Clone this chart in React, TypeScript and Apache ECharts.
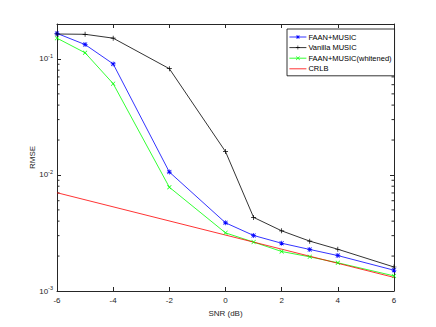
import React, { useEffect, useRef } from "react";
import * as echarts from "echarts";

const snrValues = [-6, -5, -4, -2, 0, 1, 2, 3, 4, 6];
const faanMusic = [0.166, 0.133, 0.0906, 0.0106, 0.00387, 0.00301, 0.00258, 0.00228, 0.00202, 0.00151];
const vanillaMusic = [0.164, 0.163, 0.151, 0.0824, 0.0159, 0.00431, 0.0033, 0.00269, 0.00229, 0.00161];
const faanWhitened = [0.151, 0.113, 0.0612, 0.00784, 0.00317, 0.00264, 0.00219, 0.00197, 0.00175, 0.00135];
const crlbSnr = [-6, 6];
const crlbValues = [0.00703, 0.00131];
const seriesNames = ["FAAN+MUSIC", "Vanilla MUSIC", "FAAN+MUSIC(whitened)", "CRLB"];
const xMin = -6;
const xMax = 6;
const yMin = 0.001;
const yMax = 0.2;

const FONT = "Liberation Sans, Arial, Helvetica, sans-serif";
const AX = "#262626";

const PLUS = "path://M4.3,0H5.7V4.3H10V5.7H5.7V10H4.3V5.7H0V4.3H4.3Z";
const XMARK = "path://M0,1L1,0L5,4L9,0L10,1L6,5L10,9L9,10L5,6L1,10L0,9L4,5Z";
const STAR =
  "path://M4.3,0H5.7V4.3H10V5.7H5.7V10H4.3V5.7H0V4.3H4.3Z M0.5,1.5L1.5,0.5L5,4L8.5,0.5L9.5,1.5L6,5L9.5,8.5L8.5,9.5L5,6L1.5,9.5L0.5,8.5L4,5Z";

function pairs(xs: number[], ys: number[]) {
  return xs.map((x, i) => [x, ys[i]]);
}

// minor tick positions on the log axis (k * 10^n)
const minorTickValues: number[] = [];
for (let e = -3; e <= -1; e++) {
  for (let k = 2; k <= 9; k++) {
    const v = k * Math.pow(10, e);
    if (v < yMax) minorTickValues.push(v);
  }
}

export default function App() {
  const ref = useRef<HTMLDivElement>(null);
  useEffect(() => {
    if (!ref.current) return;
    const chart = echarts.init(ref.current, undefined, { renderer: "svg" });
    const yLabel = (v: number) => {
      const l = Math.log10(v);
      const e = Math.round(l);
      if (Math.abs(l - e) > 1e-6) return "";
      return `{b|10}{s|${e}}`;
    };
    const lineCommon = {
      type: "line" as const,
      xAxisIndex: 0,
      yAxisIndex: 0,
      showAllSymbol: true,
      symbolSize: 5,
      lineStyle: { width: 0.8 },
      z: 3,
    };
    chart.setOption({
      animation: false,
      backgroundColor: "#fff",
      textStyle: { fontFamily: FONT },
      grid: { left: 57, top: 24, right: 42, bottom: 36, containLabel: false },
      legend: {
        orient: "vertical",
        left: 287,
        top: 29,
        itemWidth: 17,
        itemHeight: 5,
        itemGap: 2.6,
        padding: [4, 3, 3, 2],
        borderColor: "#000",
        borderWidth: 0.8,
        borderRadius: 0,
        backgroundColor: "#fff",
        data: [
          seriesNames[0],
          seriesNames[1],
          seriesNames[2],
          { name: seriesNames[3], itemStyle: { opacity: 0 } },
        ],
        lineStyle: { width: 0.8 },
        textStyle: { fontSize: 7.5, color: "#000", fontFamily: FONT, padding: [0, 0, 0, -3] },
      },
      xAxis: [
        {
          type: "value",
          min: xMin,
          max: xMax,
          interval: 2,
          name: "SNR (dB)",
          nameLocation: "middle",
          nameGap: 18,
          nameMoveOverlap: false,
          nameTextStyle: { fontSize: 8, color: AX, fontFamily: FONT },
          axisLine: { show: true, onZero: false, lineStyle: { color: AX, width: 1 } },
          axisTick: { show: true, inside: true, length: 4, lineStyle: { color: AX } },
          axisLabel: { fontSize: 8, color: AX, margin: 5, fontFamily: FONT },
          splitLine: { show: false },
        },
        {
          type: "value",
          position: "top",
          min: xMin,
          max: xMax,
          interval: 2,
          axisLine: { show: true, onZero: false, lineStyle: { color: AX, width: 1 } },
          axisTick: { show: true, inside: true, length: 4, lineStyle: { color: AX } },
          axisLabel: { show: false },
          splitLine: { show: false },
        },
      ],
      yAxis: [
        {
          type: "log",
          logBase: 10,
          min: yMin,
          max: yMax,
          name: "RMSE",
          nameLocation: "middle",
          nameGap: 21,
          nameMoveOverlap: false,
          nameRotate: 90,
          nameTextStyle: { fontSize: 8, color: AX, fontFamily: FONT },
          axisLine: { show: true, onZero: false, lineStyle: { color: AX, width: 1 } },
          axisTick: { show: true, inside: true, length: 4, lineStyle: { color: AX } },
          axisLabel: {
            formatter: yLabel,
            margin: 4,
            showMaxLabel: false,
            rich: {
              b: { fontSize: 8, color: AX, fontFamily: FONT },
              s: { fontSize: 5.5, color: AX, fontFamily: FONT, padding: [0, 0, 6, 0] },
            },
          },
          splitLine: { show: false },
        },
        {
          type: "log",
          logBase: 10,
          position: "right",
          min: yMin,
          max: yMax,
          axisLine: { show: true, onZero: false, lineStyle: { color: AX, width: 1 } },
          axisTick: { show: true, inside: true, length: 4, lineStyle: { color: AX } },
          axisLabel: { show: false },
          splitLine: { show: false },
        },
      ],
      series: [
        {
          ...lineCommon,
          name: seriesNames[0],
          data: pairs(snrValues, faanMusic),
          symbol: STAR,
          color: "#0000ff",
          itemStyle: { color: "#0000ff" },
        },
        {
          ...lineCommon,
          name: seriesNames[1],
          data: pairs(snrValues, vanillaMusic),
          symbol: PLUS,
          color: "#000000",
          itemStyle: { color: "#000000" },
        },
        {
          ...lineCommon,
          name: seriesNames[2],
          data: pairs(snrValues, faanWhitened),
          symbol: XMARK,
          symbolSize: 4.5,
          color: "#00ff00",
          itemStyle: { color: "#00ff00" },
        },
        {
          ...lineCommon,
          name: seriesNames[3],
          data: pairs(crlbSnr, crlbValues),
          symbol: "none",
          showSymbol: false,
          color: "#ff0000",
          itemStyle: { color: "#ff0000" },
        },
        {
          type: "custom",
          name: "minorTicks",
          silent: true,
          xAxisIndex: 0,
          yAxisIndex: 0,
          clip: false,
          z: 1,
          data: minorTickValues.map((v) => [xMin, v]),
          renderItem: (params: any, api: any) => {
            const v = api.value(1);
            const l = api.coord([xMin, v]);
            const r = api.coord([xMax, v]);
            const st = { stroke: AX, lineWidth: 1 };
            return {
              type: "group",
              children: [
                { type: "line", shape: { x1: l[0], y1: l[1], x2: l[0] + 2.5, y2: l[1] }, style: st },
                { type: "line", shape: { x1: r[0], y1: r[1], x2: r[0] - 2.5, y2: r[1] }, style: st },
              ],
            };
          },
        },
      ],
    });
    return () => chart.dispose();
  }, []);
  return (
    <div
      ref={ref}
      style={{ position: "absolute", left: 0, top: 0, width: 436, height: 327, background: "#fff" }}
    />
  );
}
